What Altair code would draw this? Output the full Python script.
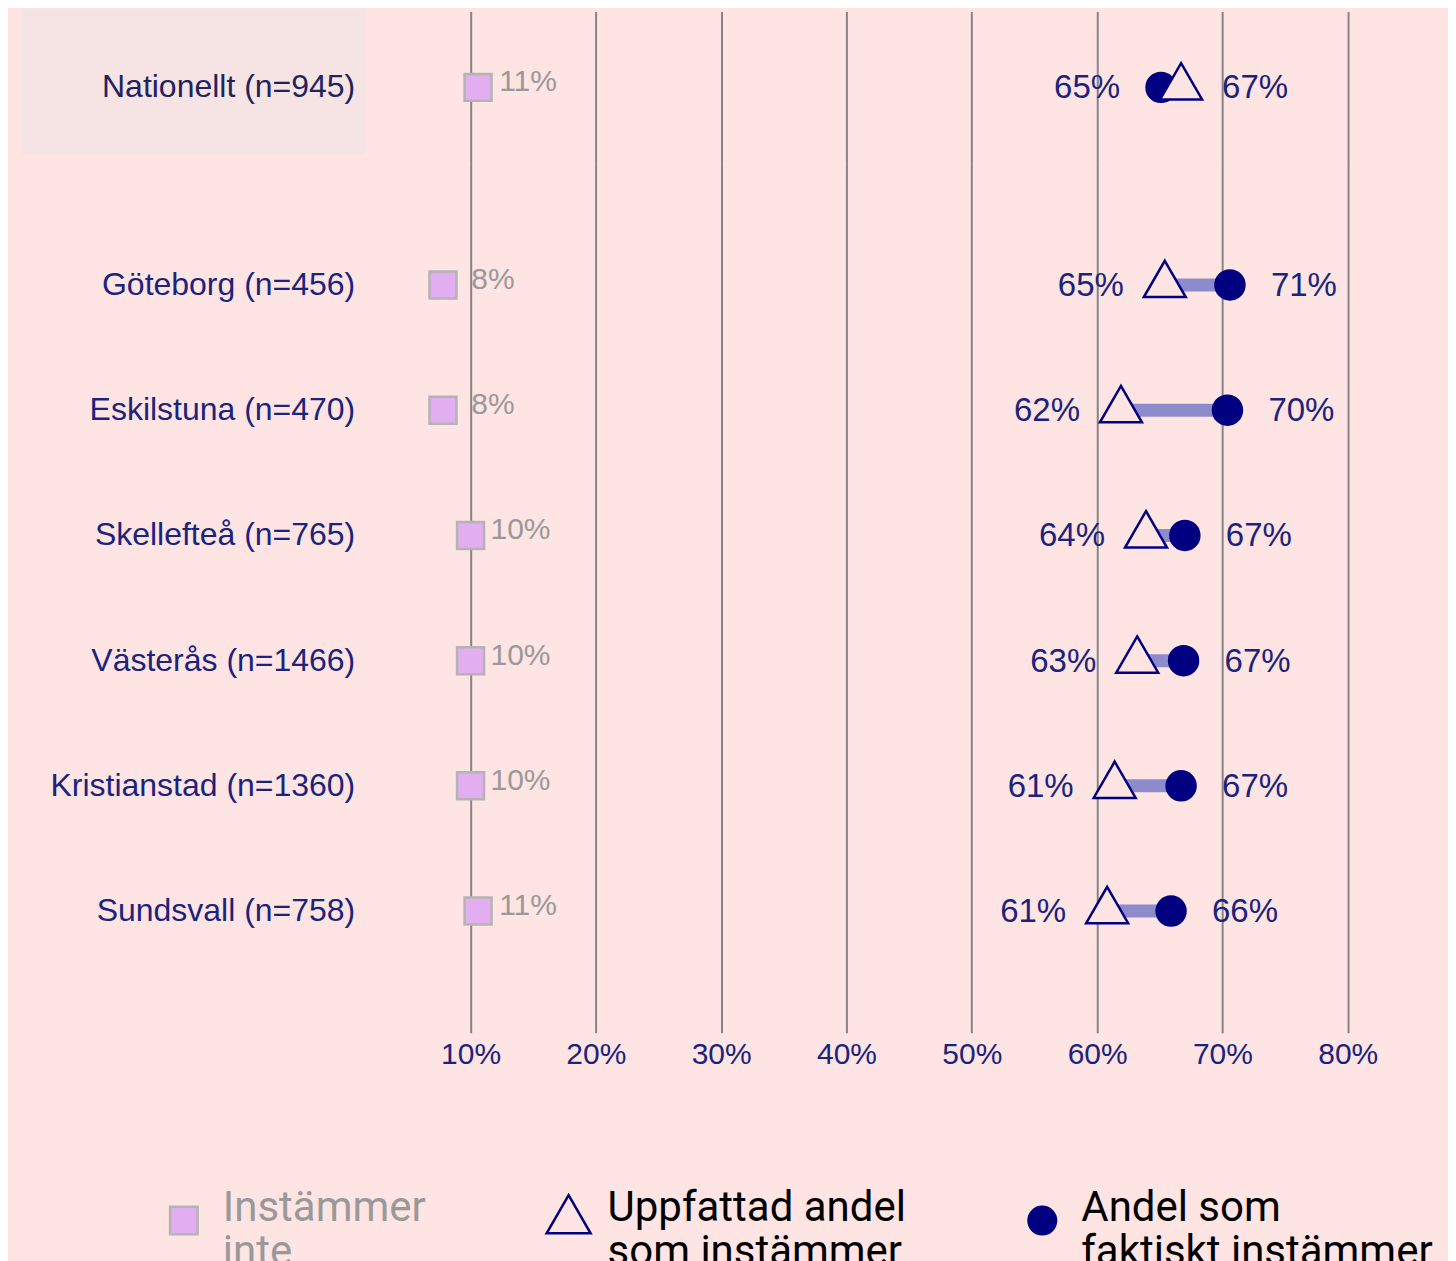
import altair as alt
import pandas as pd

# ---- data ----
regions = [
    "Nationellt (n=945)",
    "Göteborg (n=456)",
    "Eskilstuna (n=470)",
    "Skellefteå (n=765)",
    "Västerås (n=1466)",
    "Kristianstad (n=1360)",
    "Sundsvall (n=758)",
]
instammer_inte = [10.6, 7.8, 7.8, 10.0, 10.0, 10.0, 10.6]
uppfattad = [66.7, 65.4, 61.9, 63.9, 63.2, 61.4, 60.8]
faktiskt = [65.1, 70.6, 70.4, 67.0, 66.9, 66.7, 65.9]
panel = ["top", "bottom", "bottom", "bottom", "bottom", "bottom", "bottom"]

series_names = [
    "Instämmer inte",
    "Uppfattad andel som instämmer",
    "Andel som faktiskt instämmer",
]
tick_values = [10, 20, 30, 40, 50, 60, 70, 80]

BG = "#ffe4e4"
BOX = "#f6e4e4"
NAVY = "#000080"
TXT = "#1a237e"
LILAC = "#e2aef0"
CONNECT = "#8c8ccd"
TRI = "M0,-1.155L1,0.577L-1,0.577Z"

df = pd.DataFrame({
    "region": regions,
    "inte": instammer_inte,
    "upp": uppfattad,
    "fak": faktiskt,
    "panel": panel,
})

legend = alt.Legend(
    title=None,
    orient="none",
    legendX=-195,
    legendY=1189,
    direction="horizontal",
    labelFont="Roboto",
    labelFontSize=42,
    labelLimit=600,
    labelOffset=18,
    labelBaseline="alphabetic",
    columnPadding=115,
    symbolStrokeWidth=2.5,
    symbolSize={"expr": "datum.index == 1 ? 1936 : 760"},
    labelExpr="{'Instämmer inte': ['Instämmer', 'inte'], "
              "'Uppfattad andel som instämmer': ['Uppfattad andel', 'som instämmer'], "
              "'Andel som faktiskt instämmer': ['Andel som', 'faktiskt instämmer']}[datum.label]",
    labelColor={"expr": "datum.index == 0 ? '#999999' : '#000000'"},
)

xscale = alt.Scale(domain=[1, 88], nice=False, zero=False)


def make_panel(sub, height, bottom, highlight):
    names = list(sub["region"])
    yscale = alt.Scale(paddingInner=0, paddingOuter=0.4716 if bottom else 0)
    yaxis = alt.Axis(
        title=None, ticks=False, domain=False, labelPadding=3,
        minExtent=350, maxExtent=350, labelFontSize=32, labelLimit=400,
        labelColor=TXT if bottom else "#22225e", labelFont="Liberation Sans", zindex=1,
    )
    xaxis = alt.Axis(
        values=tick_values, labelExpr="datum.value + '%'", grid=True,
        ticks=False, domain=False, labels=bottom, title=None,
        labelFontSize=30, labelColor=TXT, labelFont="Liberation Sans",
        labelPadding=7, gridColor="#858585", gridWidth=2, gridOpacity=1,
    )
    y = alt.Y("region:N", sort=names, scale=yscale, axis=yaxis)
    base = alt.Chart(sub).transform_calculate(
        lo="min(datum.upp, datum.fak)",
        hi="max(datum.upp, datum.fak)",
    )

    layers = []
    if highlight:
        layers.append(
            alt.Chart(pd.DataFrame({"a": [0]})).mark_rect(color=BOX).encode(
                x=alt.value(-336), x2=alt.value(8), y=alt.value(-3), y2=alt.value(143)
            )
        )

    connector = base.mark_rule(strokeWidth=13, color=CONNECT, strokeCap="butt").encode(
        x=alt.X("upp:Q", scale=xscale, axis=xaxis), x2="fak:Q", y=y
    )
    layers.append(connector)

    points = base.transform_fold(
        ["inte", "fak", "upp"], as_=["key", "val"]
    ).transform_calculate(
        series="datum.key == 'inte' ? 'Instämmer inte' : "
               "(datum.key == 'upp' ? 'Uppfattad andel som instämmer' : 'Andel som faktiskt instämmer')",
        sz="datum.key == 'inte' ? 729 : (datum.key == 'upp' ? 1764 : 841)",
    ).mark_point(filled=True, opacity=1, strokeWidth=2.5).encode(
        x=alt.X("val:Q", scale=xscale, axis=xaxis),
        y=y,
        shape=alt.Shape("series:N", scale=alt.Scale(domain=series_names, range=["square", TRI, "circle"]), legend=legend),
        fill=alt.Fill("series:N", scale=alt.Scale(domain=series_names, range=[LILAC, BG, NAVY]), legend=legend),
        stroke=alt.Stroke("series:N", scale=alt.Scale(domain=series_names, range=["#b4b4b4", NAVY, NAVY]), legend=legend),
        size=alt.Size("sz:Q", scale=None, legend=None),
    )
    layers.append(points)

    sq_lbl = base.transform_calculate(t="format(datum.inte, '.0f') + '%'").mark_text(
        align="center", baseline="middle", dx=50, dy=-5, fontSize=30,
        color="#999999", font="Liberation Sans",
    ).encode(x=alt.X("inte:Q", scale=xscale, axis=xaxis), y=y, text="t:N")
    layers.append(sq_lbl)

    lo_lbl = base.transform_calculate(t="format(datum.lo, '.0f') + '%'").mark_text(
        align="right", baseline="middle", dx=-41, dy=1, fontSize=33,
        color=TXT, font="Liberation Sans",
    ).encode(x=alt.X("lo:Q", scale=xscale, axis=xaxis), y=y, text="t:N")
    layers.append(lo_lbl)

    hi_lbl = base.transform_calculate(t="format(datum.hi, '.0f') + '%'").mark_text(
        align="left", baseline="middle", dx=41, dy=1, fontSize=33,
        color=TXT, font="Liberation Sans",
    ).encode(x=alt.X("hi:Q", scale=xscale, axis=xaxis), y=y, text="t:N")
    layers.append(hi_lbl)

    return alt.layer(*layers).properties(width=1091, height=height)


top = make_panel(df[df["panel"] == "top"], 152, False, True)
bot = make_panel(df[df["panel"] == "bottom"], 870, True, False)

chart = alt.vconcat(top, bot, spacing=0).resolve_scale(
    y="independent", x="shared",
    shape="shared", fill="shared", stroke="shared",
).properties(
    padding={"left": 0, "top": 0, "right": 0, "bottom": 0},
).configure(
    background=BG,
    font="Liberation Sans",
).configure_view(stroke=None)

chart.save("out.html", embed_options={"renderer": "svg", "actions": False})
